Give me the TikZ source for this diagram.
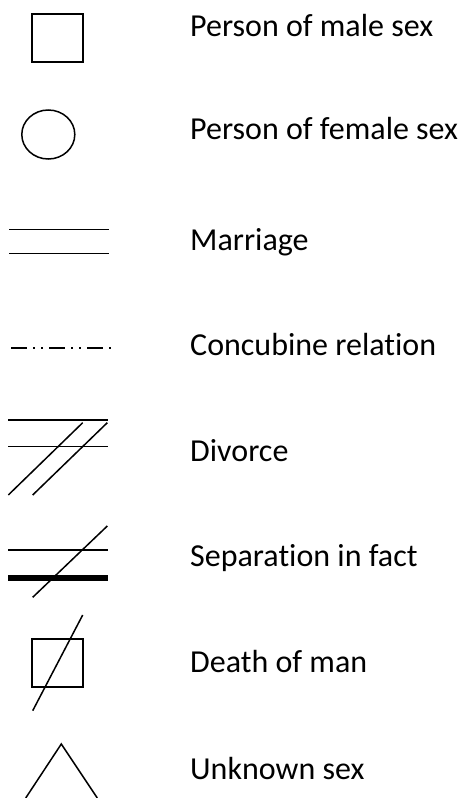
\documentclass[tikz,border=0pt]{standalone}
\usepackage{fontspec}
\setmainfont{Carlito}[Ligatures=NoCommon]
\usetikzlibrary{shapes.geometric}

\begin{document}
\begin{tikzpicture}[x=1pt, y=-1pt,
    sym/.style={draw, line width=1.5pt, inner sep=0pt},
    stroke/.style={line width=1.5pt},
    lbl/.style={anchor=base west, inner sep=0pt, font=\fontsize{32}{38}\selectfont},
]
    \useasboundingbox (0,0) rectangle (464,798);
    % male / female
    \node[sym, minimum width=51pt, minimum height=48pt] (male) at (57.5,38) {};
    \node[lbl] (malelbl) at (190,36) {Person of male sex};
    \node[sym, ellipse, minimum width=53pt, minimum height=49pt] (female) at (48.3,134.5) {};
    \node[lbl] (femalelbl) at (190,139.3) {Person of female sex};
    % marriage
    \draw[stroke] (9,229.3) -- (109,229.3);
    \draw[stroke] (9,253.3) -- (109,253.3);
    \node[lbl] (marriagelbl) at (190,250) {Marriage};
    % concubine
    \draw[stroke, dash pattern=on 16pt off 6.3pt on 1.4pt off 6.6pt on 1.4pt off 6.3pt]
        (11,348) -- (111.4,348);
    \node[lbl] (concubinelbl) at (190,355) {Concubine relation};
    % divorce
    \draw[stroke] (8,420) -- (108,420);
    \draw[stroke] (8,446.7) -- (108,446.7);
    \draw[stroke] (8.3,495) -- (82.7,422.7);
    \draw[stroke] (32.7,495) -- (107.3,422.7);
    \node[lbl] (divorcelbl) at (190,461) {Divorce};
    % separation
    \draw[stroke] (8,550) -- (108,550);
    \draw[line width=6pt] (8,578.3) -- (108,578.3);
    \draw[stroke] (32.7,597.3) -- (107.3,526);
    \node[lbl] (separationlbl) at (190,566.7) {Separation in fact};
    % death
    \node[sym, minimum width=51pt, minimum height=48pt] (dead) at (57.5,663) {};
    \draw[stroke] (32.7,710.7) -- (82.7,615);
    \node[lbl] (deadlbl) at (190,672.7) {Death of man};
    % unknown
    \draw[stroke] (25.7,798) -- (61.3,744) -- (97.3,798);
    \node[lbl] (unknownlbl) at (190,779) {Unknown sex};
\end{tikzpicture}
\end{document}
